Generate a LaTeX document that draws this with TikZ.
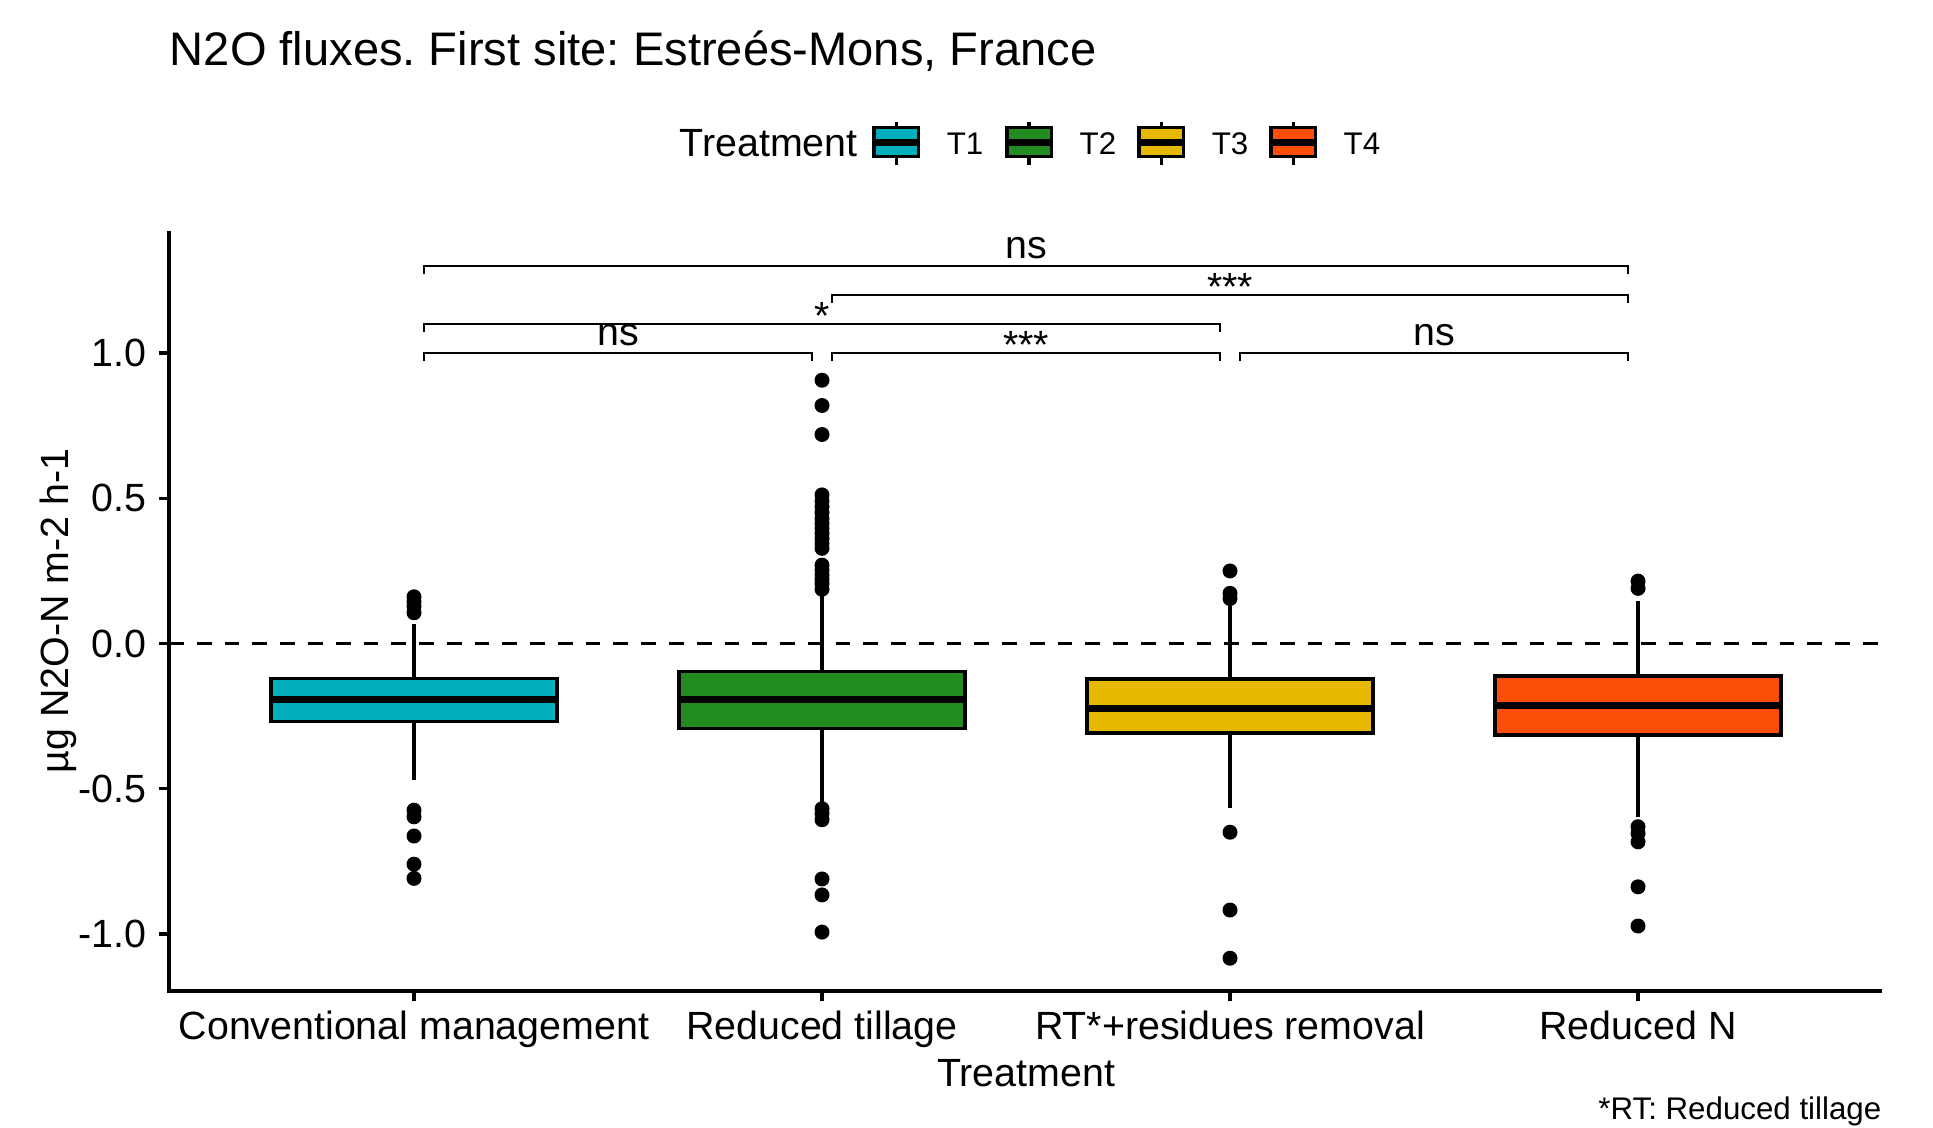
\documentclass[tikz,border=0pt]{standalone}
\usepackage{fontspec}
\setmainfont{Liberation Sans}
\usepackage{xcolor}
\frenchspacing

\begin{document}
\begin{tikzpicture}[x=4.08cm,y=2.903cm,
  lbl/.style={inner sep=0,font=\fontsize{11.2}{13}\selectfont},
  small/.style={inner sep=0,font=\fontsize{8.9}{10.5}\selectfont},
  ns/.style={lbl,anchor=base,yshift=0.075cm},
  stars/.style={lbl,anchor=base,yshift=-0.05cm},
  box/.style={draw=black,line width=1pt}]
\useasboundingbox (-0.0147,-1.6655) rectangle (4.723,2.2167);
\definecolor{cyanteal}{HTML}{00AFBB}
\definecolor{forestgrn}{HTML}{228B22}
\definecolor{goldyellow}{HTML}{E7B800}
\definecolor{redorange}{HTML}{FC4E07}
\node[anchor=base west,inner sep=0,font=\fontsize{13.4}{16}\selectfont] (title) at (0.4,1.99) {N2O fluxes. First site: Estreés-Mons, France};
% legend
\node[lbl,anchor=base west] (legtitle) at (1.6495,1.677) {Treatment};
  \foreach \clr/\k/\xk in {cyanteal/1/2.1275,forestgrn/2/2.4534,goldyellow/3/2.777,redorange/4/3.1005}
  { \draw[line width=1pt] (\xk+0.0545,1.648) -- (\xk+0.0545,1.797);
    \filldraw[box,fill=\clr] (\xk,1.677) rectangle (\xk+0.109,1.778);
    \draw[line width=2pt] (\xk,1.7275) -- (\xk+0.109,1.7275);
    \node[small,anchor=base west] (leg\k) at (\xk+0.1765,1.683) {T\k};}
% axes
\draw[line width=1pt] (0.4,1.4227) -- (0.4,-1.197) -- (4.598,-1.197);
  \foreach \v/\t [count=\n] in {-1/-1.0,-0.5/-0.5,0/0.0,0.5/0.5,1/1.0}
  { \draw[line width=1pt] (0.4,\v) -- ++(-0.097cm,0);
    \node[lbl,anchor=east,xshift=-0.223cm] (ytick\n) at (0.4,\v) {\t};}
  \foreach \lab [count=\i] in {Conventional management,Reduced tillage,RT*+residues removal,Reduced N}
  { \draw[line width=1pt] (\i,-1.197) -- ++(0,-0.097cm);
    \node[lbl,anchor=base] (xtick\i) at (\i,-1.3623) {\lab};}
\node[lbl,anchor=base] (xlab) at (2.5,-1.5243) {Treatment};
\node[lbl,rotate=90,anchor=north] (ylab) at (0.082,0.112) {µg N2O-N m-2 h-1};
\draw[line width=1pt,dash pattern=on 4.2pt off 3.7pt] (0.4,0) -- (4.598,0);
% boxes
  \foreach \i/\clr/\lo/\qa/\md/\qb/\hi in {1/cyanteal/-0.470/-0.268/-0.194/-0.120/0.067,
    2/forestgrn/-0.548/-0.292/-0.192/-0.097/0.170,3/goldyellow/-0.568/-0.309/-0.223/-0.123/0.130,
    4/redorange/-0.599/-0.315/-0.212/-0.112/0.147}
  { \draw[box] (\i,\lo) -- (\i,\qa) (\i,\qb) -- (\i,\hi);
    \filldraw[box,fill=\clr] (\i-0.35,\qa) rectangle (\i+0.35,\qb);
    \draw[line width=2pt] (\i-0.35,\md) -- (\i+0.35,\md);}
  \foreach \i/\v in {1/0.161,1/0.144,1/0.127,1/0.106,1/-0.574,1/-0.597,1/-0.663,1/-0.760,1/-0.809,
    2/0.907,2/0.820,2/0.720,2/0.512,2/0.491,2/0.471,2/0.451,2/0.431,2/0.414,2/0.397,2/0.380,2/0.362,
    2/0.345,2/0.328,2/0.270,2/0.253,2/0.236,2/0.221,2/0.207,2/0.187,
    2/-0.569,2/-0.586,2/-0.607,2/-0.811,2/-0.866,2/-0.994,
    3/0.250,3/0.173,3/0.155,3/-0.650,3/-0.918,3/-1.084,
    4/0.215,4/0.190,4/-0.631,4/-0.654,4/-0.683,4/-0.838,4/-0.973}
  { \fill (\i,\v) circle (0.075cm);}
% significance brackets
  \foreach \a/\b/\h/\s/\sty [count=\n] in {1/4/1.3/ns/ns,2/4/1.2/***/stars,1/3/1.1/*/stars,
    1/2/1.0/ns/ns,2/3/1.0/***/stars,3/4/1.0/ns/ns}
  { \draw[line width=0.6pt] (\a+0.025,\h-0.027) -- (\a+0.025,\h) -- (\b-0.025,\h) -- (\b-0.025,\h-0.027);
    \node[\sty] (sig\n) at ({(\a+\b)/2},\h) {\s};}
\node[small,anchor=base east] (caption) at (4.598,-1.638) {*RT: Reduced tillage};
\end{tikzpicture}
\end{document}
